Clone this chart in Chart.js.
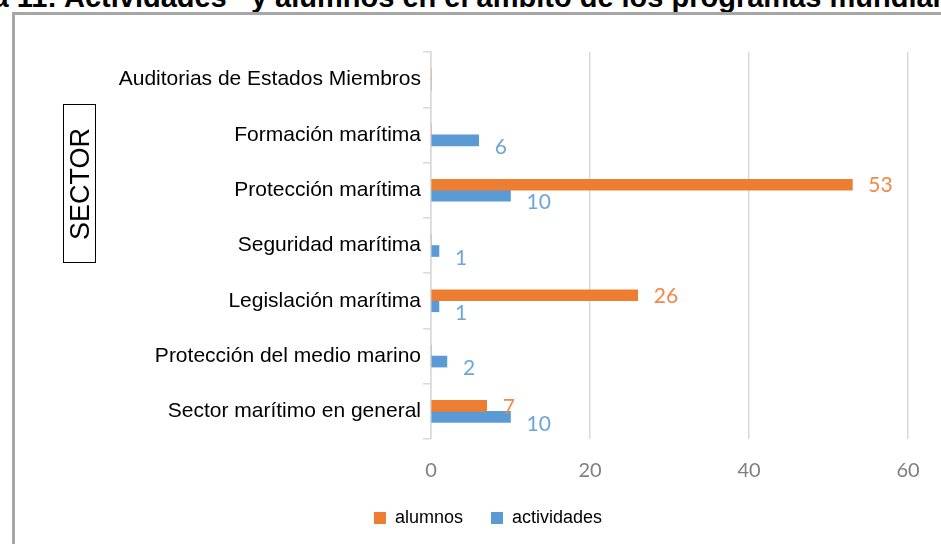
<!DOCTYPE html>
<html>
<head>
<meta charset="utf-8">
<script src="https://cdn.jsdelivr.net/npm/chart.js@4/dist/chart.umd.min.js"></script>
<style>
  body { margin: 0; width: 941px; height: 544px; overflow: hidden; background: #fff; position: relative; font-family: "Liberation Sans", Arial, sans-serif; }
  #titulo { position: absolute; left: -80px; top: -17px; white-space: nowrap; font: bold 29px/29px "Liberation Sans", Arial, sans-serif; color: #000; }
  #marco { position: absolute; left: 12px; top: 12px; width: 1000px; height: 600px; border: 3px solid #a6a6a6; }
  #grafico { position: absolute; left: 0; top: 0; }
  #sector { position: absolute; left: 63px; top: 104px; width: 33px; height: 159px; border: 1px solid #000; box-sizing: border-box; }
  #sector span { position: absolute; left: 50%; top: 50%; transform: translate(-50%, -50%) rotate(-90deg); font-size: 27px; white-space: nowrap; }
</style>
</head>
<body>
<div id="titulo">Figura 11: Actividades&nbsp;&nbsp; y alumnos en el ámbito de los programas mundiales</div>
<div id="marco"></div>
<canvas id="grafico" width="941" height="544"></canvas>
<div id="sector"><span>SECTOR</span></div>
<script>
// datos (de arriba hacia abajo)
const categorias = [
  'Auditorias de Estados Miembros',
  'Formación marítima',
  'Protección marítima',
  'Seguridad marítima',
  'Legislación marítima',
  'Protección del medio marino',
  'Sector marítimo en general'
];
const alumnos = [0, 0, 53, 0, 26, 0, 7];
const actividades = [0, 6, 10, 1, 1, 2, 10];
const ticksX = [0, 20, 40, 60];

// etiquetas de valor a la derecha de cada barra
const etiquetasValores = {
  id: 'etiquetasValores',
  afterDatasetsDraw(chart) {
    const ctx = chart.ctx;
    ctx.save();
    ctx.font = '21px Lato, "Open Sans", sans-serif';
    ctx.textAlign = 'left';
    ctx.textBaseline = 'middle';
    chart.data.datasets.forEach((ds, i) => {
      const meta = chart.getDatasetMeta(i);
      meta.data.forEach((bar, j) => {
        const v = ds.data[j];
        if (!v) return;
        ctx.fillStyle = ds.labelColor;
        ctx.fillText(String(v), bar.x + 16, bar.y + ds.labelDy);
      });
    });
    ctx.restore();
  }
};

Chart.defaults.font.family = '"Liberation Sans", Arial, sans-serif';

const ctx = document.getElementById('grafico').getContext('2d');
const grafico = new Chart(ctx, {
  type: 'bar',
  data: {
    labels: categorias,
    datasets: [
      {
        label: 'alumnos',
        data: alumnos,
        backgroundColor: '#ED7D31',
        borderWidth: 0,
        barThickness: 11,
        labelColor: '#F0894A',
        labelDy: 1
      },
      {
        label: 'actividades',
        data: actividades,
        backgroundColor: '#5B9BD5',
        borderWidth: 0,
        barThickness: 11,
        labelColor: '#6EA6DA',
        labelDy: 7
      }
    ]
  },
  options: {
    indexAxis: 'y',
    responsive: false,
    animation: false,
    layout: { padding: { top: 52, left: 68, right: 33, bottom: 7 } },
    plugins: {
      tooltip: { enabled: false },
      legend: {
        position: 'bottom',
        labels: {
          boxWidth: 12,
          boxHeight: 12,
          padding: 28,
          color: '#000',
          font: { size: 18 }
        }
      }
    },
    scales: {
      x: {
        min: 0,
        max: 60,
        afterBuildTicks: (s) => { s.ticks = ticksX.map(v => ({ value: v })); },
        afterFit: (s) => { s.height = 42; },
        grid: { color: '#d9d9d9', lineWidth: 1.5, drawTicks: false },
        border: { display: false },
        ticks: {
          padding: 20,
          color: '#7f7f7f',
          font: { family: 'Lato, "Open Sans", sans-serif', size: 20 }
        }
      },
      y: {
        afterFit: (s) => { s.width = 363; },
        grid: { offset: true, drawOnChartArea: false, tickLength: 8, color: '#d9d9d9', lineWidth: 1.5 },
        border: { color: '#d9d9d9', width: 1.5 },
        ticks: {
          padding: 2,
          color: '#000',
          font: { size: 21 }
        }
      }
    }
  },
  plugins: [etiquetasValores]
});
</script>
</body>
</html>
